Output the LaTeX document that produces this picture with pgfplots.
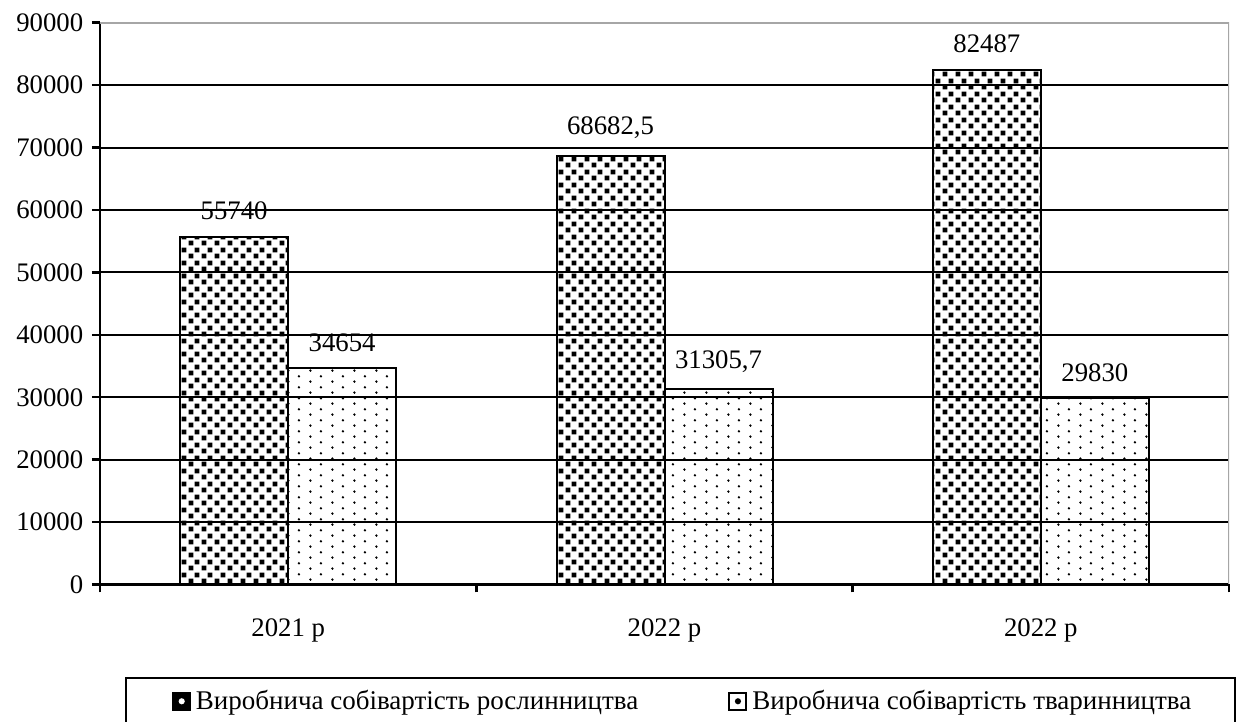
\documentclass[border=0pt]{standalone}
\usepackage{pgfplots}
\pgfplotsset{compat=1.18}
\usepackage{fontspec}
\setmainfont{Liberation Serif}
\usetikzlibrary{patterns}

\pgfdeclarepatternformonly{densechecks}{\pgfqpoint{0pt}{0pt}}{\pgfqpoint{5pt}{5pt}}{\pgfqpoint{5pt}{5pt}}{%
 \pgfpathrectangle{\pgfqpoint{0.25pt}{0.25pt}}{\pgfqpoint{2pt}{2pt}}%
 \pgfpathrectangle{\pgfqpoint{2.75pt}{2.75pt}}{\pgfqpoint{2pt}{2pt}}%
 \pgfusepath{fill}}
\pgfdeclarepatternformonly{sparsedots}{\pgfqpoint{0pt}{0pt}}{\pgfqpoint{8.8pt}{4.3pt}}{\pgfqpoint{8.8pt}{4.3pt}}{%
 \pgfpathcircle{\pgfqpoint{1pt}{1pt}}{0.55pt}%
 \pgfpathcircle{\pgfqpoint{5.4pt}{3.15pt}}{0.55pt}%
 \pgfusepath{fill}}

\begin{document}
\begin{tikzpicture}
\useasboundingbox (0,0) rectangle (495.2pt,288.8pt);
\clip (0,0) rectangle (495.2pt,288.8pt);
\begin{axis}[
 at={(40pt,55pt)}, anchor=south west,
 scale only axis, width=451.6pt, height=224.7pt,
 ybar=0pt, bar width=43.2pt,
 xmin=-0.5, xmax=2.5, ymin=0, ymax=90000,
 ytick={0,10000,...,90000},
 xtick={-0.5,0.5,1.5,2.5}, xticklabels={},
 extra x ticks={0,1,2}, extra x tick labels={2021 р,2022 р,2022 р},
 extra x tick style={major tick length=0pt, xticklabel style={yshift=-10pt}},
 axis lines*=left, axis line style={line width=1pt},
 ymajorgrids, grid style={black, line width=0.8pt},
 tick align=outside, major tick length=3.2pt, tick style={black, line width=1pt},
 scaled y ticks=false,
 /pgf/number format/assume math mode=true,
 /pgf/number format/use comma,
 /pgf/number format/1000 sep={},
 ticklabel style={font=\fontsize{10.7}{12.5}\selectfont},
 nodes near coords,
 every node near coord/.append style={font=\fontsize{10.7}{12.5}\selectfont, black, yshift=3pt},
 legend columns=2,
 legend style={at={(0.023,-0.1664)}, anchor=north west, draw=none,
   font=\fontsize{10.8}{12.5}\selectfont, inner xsep=18.4pt, inner ysep=2.5pt,
   /tikz/every even column/.append style={column sep=0pt}},
]
\addplot[draw=black, line width=0.8pt, pattern=densechecks,
  legend image code/.code={\draw[black, line width=0.6pt, fill=black] (0pt,-3.4pt) rectangle (6.8pt,3.4pt); \fill[white] (3.4pt,0pt) circle (0.8pt);}]
  coordinates {(0,55740) (1,68682.5) (2,82487)};
\addlegendentry{\makebox[211pt][l]{Виробнича собівартість рослинництва}}
\addplot[draw=black, line width=0.8pt, pattern=sparsedots,
  legend image code/.code={\draw[black, line width=0.8pt, fill=white] (0pt,-3.4pt) rectangle (6.8pt,3.4pt); \fill[black] (3.4pt,0pt) circle (0.8pt);}]
  coordinates {(0,34654) (1,31305.7) (2,29830)};
\addlegendentry{\makebox[172pt][l]{Виробнича собівартість тваринництва}}
\draw[gray!70, line width=1pt] (rel axis cs:0,1) -- (rel axis cs:1,1) -- (rel axis cs:1,0);
\end{axis}
\draw[black, line width=1pt] (50.4pt,17.6pt) rectangle (494pt,-6pt);
\end{tikzpicture}
\end{document}
